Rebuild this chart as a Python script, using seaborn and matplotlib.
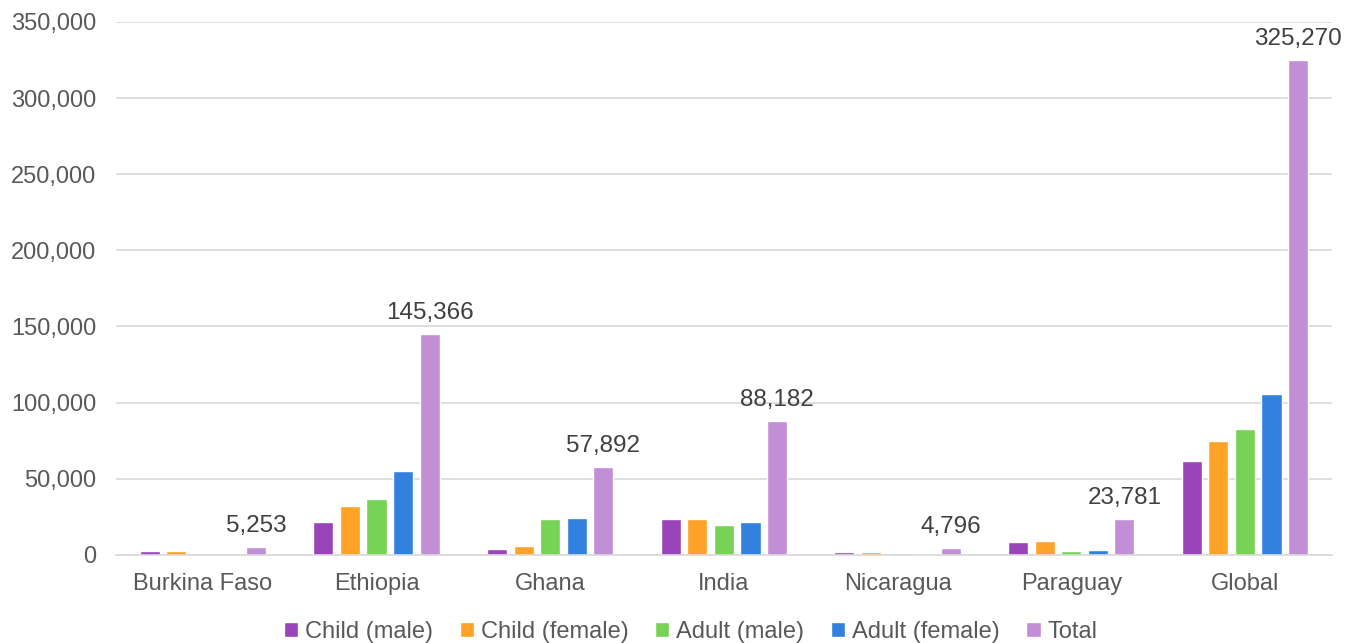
import matplotlib
matplotlib.use("Agg")
import matplotlib.pyplot as plt
import seaborn as sns
import pandas as pd
from matplotlib.ticker import FuncFormatter
from matplotlib.patches import Patch

countries = ["Burkina Faso", "Ethiopia", "Ghana", "India", "Nicaragua", "Paraguay", "Global"]
series = ["Child (male)", "Child (female)", "Adult (male)", "Adult (female)", "Total"]
child_male = [2550, 21500, 3900, 23300, 1950, 8600, 61500]
child_female = [2703, 32000, 5900, 23300, 1900, 9300, 75000]
adult_male = [0, 36600, 23700, 19800, 50, 2700, 82900]
adult_female = [0, 55266, 24392, 21782, 896, 3181, 105870]
total = [5253, 145366, 57892, 88182, 4796, 23781, 325270]
colors = ["#9945B9", "#FFA228", "#77D355", "#3381DE", "#C28ED6"]

rows = []
for vals, s in zip([child_male, child_female, adult_male, adult_female, total], series):
    for c, v in zip(countries, vals):
        rows.append({"Country": c, "Series": s, "Value": v})
df = pd.DataFrame(rows)

sns.set_theme(style="white")
plt.rcParams["font.family"] = ["Liberation Sans", "DejaVu Sans"]

fig, ax = plt.subplots(figsize=(13.52, 6.43), dpi=100)
fig.subplots_adjust(left=0.0858, right=0.985, top=0.966, bottom=0.137)

sns.barplot(data=df, x="Country", y="Value", hue="Series", hue_order=series,
            order=countries, palette=colors, width=0.765, gap=0.24, ax=ax,
            legend=False, saturation=1, errorbar=None)

ax.set_ylim(0, 350000)
ax.set_yticks(range(0, 350001, 50000))
ax.yaxis.set_major_formatter(FuncFormatter(lambda v, p: f"{int(v):,}"))
ax.grid(axis="y", color="#D9D9D9", linewidth=1.2)
ax.set_axisbelow(True)
for s in ["top", "right", "left"]:
    ax.spines[s].set_visible(False)
ax.spines["bottom"].set_color("#D9D9D9")
ax.spines["bottom"].set_linewidth(1.2)
ax.set_xlabel("")
ax.set_ylabel("")
ax.tick_params(axis="both", colors="#595959", labelsize=17, length=0)
ax.tick_params(axis="x", pad=13)
ax.tick_params(axis="y", pad=14)
ax.set_xlim(-0.5, 6.5)

# labels on Total bars
total_container = ax.containers[4]
ax.bar_label(total_container, labels=[f"{v:,}" for v in total], padding=7,
             fontsize=17.5, color="#404040")

handles = [Patch(facecolor=c, label=s) for c, s in zip(colors, series)]
fig.legend(handles=handles, loc="lower center", ncol=5, frameon=False,
           fontsize=17, handlelength=0.6, handleheight=0.6, handletextpad=0.3,
           columnspacing=1.12, bbox_to_anchor=(0.511, -0.033), labelcolor="#595959")

fig.savefig("out.png", dpi=100)
